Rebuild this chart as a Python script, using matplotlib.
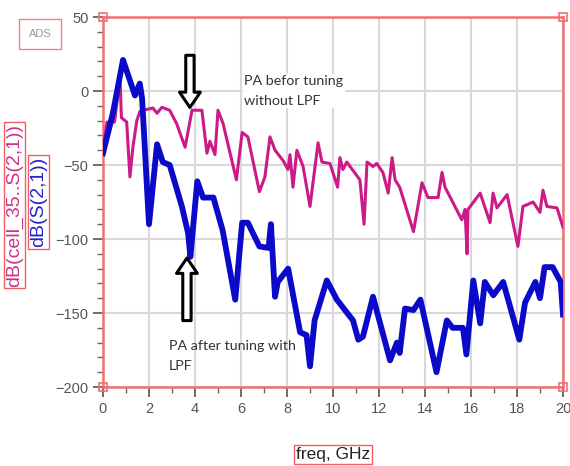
#!/usr/bin/env python

import numpy as np
import matplotlib
import matplotlib.pyplot as plt

matplotlib.use("Agg")

# PA after tuning with LPF (blue)
freq_after = [0, 0.43, 0.87, 1.39, 1.6, 1.7, 2.0, 2.35, 2.6, 2.9, 3.43, 3.7, 3.8,
              4.1, 4.35, 4.8, 5.2, 5.75, 6.05, 6.3, 6.8, 7.2, 7.3, 7.48, 7.6,
              8.05, 8.57, 8.85, 9.0, 9.2, 9.73, 10.17, 10.87, 11.1, 11.3, 11.74,
              12.48, 12.78, 12.9, 13.13, 13.5, 13.8, 14.5, 14.95, 15.2, 15.65,
              15.8, 16.1, 16.4, 16.6, 16.97, 17.4, 18.1, 18.35, 18.8, 19.0, 19.2,
              19.55, 19.9, 20.0]
s21_after = [-42, -15, 21, -3, 5, -5, -90, -36, -48, -50, -78, -96, -112,
             -61, -72, -72, -94, -141, -89, -89, -105, -106, -90, -139, -129,
             -120, -163, -165, -186, -155, -128, -141, -155, -168, -166, -139,
             -182, -170, -177, -147, -148, -141, -190, -155, -160, -160,
             -178, -128, -157, -129, -138, -129, -168, -143, -129, -140, -119,
             -119, -129, -151]

# PA before tuning without LPF (magenta)
freq_before = [0, 0.17, 0.5, 0.74, 0.8, 1.03, 1.17, 1.3, 1.47, 1.6, 1.74, 2.17,
               2.35, 2.56, 2.9, 3.2, 3.57, 3.87, 4.3, 4.52, 4.65, 4.87, 5.0,
               5.22, 5.8, 6.05, 6.3, 6.8, 7.04, 7.26, 7.48, 7.83, 8.04, 8.13,
               8.26, 8.43, 8.7, 9.0, 9.35, 9.52, 9.87, 10.2, 10.3, 10.43, 10.6,
               11.17, 11.35, 11.48, 11.74, 11.9, 12.17, 12.4, 12.57, 12.7, 12.9,
               13.5, 13.87, 14.13, 14.57, 14.74, 14.87, 15.17, 15.6, 15.74,
               15.83, 15.87, 16.4, 16.83, 16.96, 17.13, 17.57, 18.04, 18.26,
               18.7, 19.0, 19.13, 19.3, 19.74, 20.0]
s21_before = [-40, -21, -21, 9, -18, -21, -58, -38, -20, -14, -13, -11.5,
              -15, -11, -13, -22, -38, -13, -13, -42, -34, -43, -13,
              -22, -60, -28, -31, -68, -58, -31, -40, -47, -53, -43,
              -65, -40, -51, -78, -35, -48, -49, -65, -45, -53, -48,
              -60, -90, -48, -51, -49, -55, -69, -45, -60, -65,
              -95, -62, -72, -72, -55, -65, -74, -87, -80,
              -110, -80, -69, -89, -69, -79, -70, -105, -78,
              -75, -82, -67, -78, -79, -92]

x_ticks = np.arange(0, 21, 2)
y_ticks = np.arange(-200, 51, 50)


def main():
  fig = plt.figure(figsize=(5.7, 4.66), dpi=100)
  ax = fig.add_axes([0.1807, 0.1695, 0.807, 0.794])

  ax.plot(freq_before, s21_before, color="#cc1a88", lw=2.2, zorder=3)
  ax.plot(freq_after, s21_after, color="#0a0ac8", lw=4.2, zorder=4,
          solid_joinstyle="round")

  ax.set_xlim(0, 20)
  ax.set_ylim(-200, 50)
  ax.set_xticks(x_ticks)
  ax.set_yticks(y_ticks)
  ax.set_xticks(np.arange(0, 21, 1), minor=True)
  ax.set_yticks(np.arange(-200, 51, 10), minor=True)
  ax.grid(True, which="major", color="#d9d9d9", lw=1.5)
  ax.tick_params(which="major", direction="out", length=7, width=1.2,
                 colors="#555555", labelsize=10.5)
  ax.tick_params(which="minor", direction="out", length=4, width=1.0,
                 colors="#666666")
  for lab in ax.get_xticklabels() + ax.get_yticklabels():
    lab.set_family("Liberation Sans")
  for sp in ax.spines.values():
    sp.set_color("#f07070")
    sp.set_linewidth(1.8)

  # small corner markers
  for cx, cy in [(0, 0), (1, 0), (0, 1), (1, 1)]:
    ax.plot(cx, cy, marker="s", ms=6, mfc="none", mec="#f07070", mew=1.2,
            transform=ax.transAxes, clip_on=False, zorder=6)

  # annotation arrows (hollow block arrows)
  arrow_kw = dict(arrowstyle="simple,head_length=1.1,head_width=1.5,tail_width=0.6",
                  fc="white", ec="black", lw=2.2)
  ax.annotate("", xy=(3.78, -13), xytext=(3.78, 26), arrowprops=arrow_kw,
              zorder=7)
  ax.annotate("", xy=(3.65, -111), xytext=(3.65, -157), arrowprops=arrow_kw,
              zorder=7)

  txt_kw = dict(fontsize=10.3, color="#333333", family="Lato", linespacing=1.75)
  ax.text(6.15, 0, "PA befor tuning\nwithout LPF", va="center", ha="left",
          bbox=dict(fc="white", ec="none", pad=1), zorder=5, **txt_kw)
  ax.text(2.85, -179, "PA after tuning with\nLPF", va="center", ha="left",
          zorder=5, **txt_kw)

  # "ADS" label box
  fig.text(0.07, 0.928, "ADS", ha="center", va="center", fontsize=8,
           color="#999999", family="Liberation Sans",
           bbox=dict(fc="white", ec="#f08080", lw=1, boxstyle="square,pad=0.9"))

  # y labels
  fig.text(0.026, 0.56, "dB(cell_35..S(2,1))", rotation=90, ha="center",
           va="center", fontsize=14, color="#cc3388", family="Liberation Sans",
           bbox=dict(fc="none", ec="#f06060", lw=1, boxstyle="square,pad=0.1"))
  fig.text(0.068, 0.567, "dB(S(2,1))", rotation=90, ha="center",
           va="center", fontsize=14, color="#2222cc", family="Liberation Sans",
           bbox=dict(fc="none", ec="#f06060", lw=1, boxstyle="square,pad=0.1"))

  # x label
  fig.text(0.584, 0.025, "freq, GHz", ha="center", va="center", fontsize=12.5,
           color="#222222", family="Liberation Sans",
           bbox=dict(fc="none", ec="#f06060", lw=1, boxstyle="square,pad=0.1"))

  fig.savefig("out.png", dpi=100)


if __name__ == '__main__':
  main()
